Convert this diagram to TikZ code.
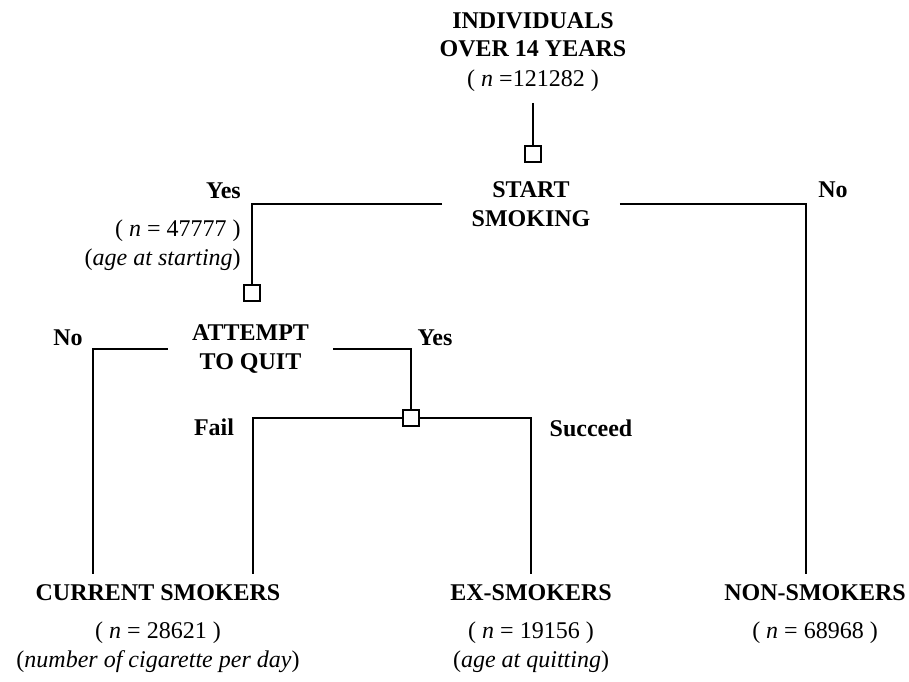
\documentclass[tikz,border=0pt]{standalone}
\usepackage{fontspec}
\setmainfont{Liberation Serif}
\usetikzlibrary{positioning}

\newcommand{\figfont}{\fontsize{18}{21.5}\selectfont}

\tikzset{
  info/.style={align=center, inner sep=0pt},
  lbl/.style={font=\figfont\bfseries, inner sep=0pt},
  quest/.style={align=center, inner sep=0pt, font=\figfont\bfseries},
  junc/.style={draw, line width=1.3pt, fill=white, minimum size=12pt, inner sep=0pt},
  branch/.style={line width=1pt},
  leaf/.style={align=center, inner xsep=0pt, inner ysep=8pt, anchor=north},
}

\begin{document}
\begin{tikzpicture}[x=0.75pt, y=-0.75pt, font=\figfont]
\useasboundingbox (0,0) rectangle (909,681);
% root and questions
\node[info] (root) at (533,52) {\textbf{INDIVIDUALS}\\\textbf{OVER 14 YEARS}\\[1pt]( \textit{n} =121282 )};
\coordinate (rootend) at (533,103);
\node[junc] (j1) at (533,154) {};
\node[quest, minimum width=132.75pt] (start) at (531,204) {START\\SMOKING};
\node[junc] (j2) at (252,293) {};
\node[quest, minimum width=123.75pt] (attempt) at (250.5,349) {ATTEMPT\\TO QUIT};
\node[junc] (j3) at (411,418) {};

% leaves
\node[leaf] (cur) at (158,574) {\textbf{CURRENT SMOKERS}\\[7pt]( \textit{n} = 28621 )\\(\textit{number of cigarette per day})};
\node[leaf] (ex) at (531,574) {\textbf{EX-SMOKERS}\\[7pt]( \textit{n} = 19156 )\\(\textit{age at quitting})};
\node[leaf] (non) at (815,574) {\textbf{NON-SMOKERS}\\[7pt]( \textit{n} = 68968 )};

% branch labels
\node[lbl, anchor=east] (yes1) at (241,191) {Yes};
\node[info, align=right, anchor=north east] (yes1n) at (241,220) {( \textit{n} = 47777 )\\(\textit{age at starting})};
\node[lbl] (no1) at (833,190) {No};
\node[lbl] (no2) at (68,338) {No};
\node[lbl] (yes2) at (435,338) {Yes};
\node[lbl] (fail) at (214,427) {Fail};
\node[lbl] (succ) at (591,428) {Succeed};

\coordinate (cNo) at (806,204);
\coordinate (cQ) at (93,349);
\coordinate (cF) at (253,418);

% connectors
\draw[branch] (rootend) -- (j1);
\draw[branch] (start.west) -| (j2);
\draw[branch] (start.east) -- (cNo) -- (cNo |- non.north);
\draw[branch] (attempt.west) -- (cQ) -- (cQ |- cur.north);
\draw[branch] (attempt.east) -| (j3);
\draw[branch] (j3.west) -- (cF) -- (cF |- cur.north);
\draw[branch] (j3.east) -| (ex.north);
\end{tikzpicture}
\end{document}
